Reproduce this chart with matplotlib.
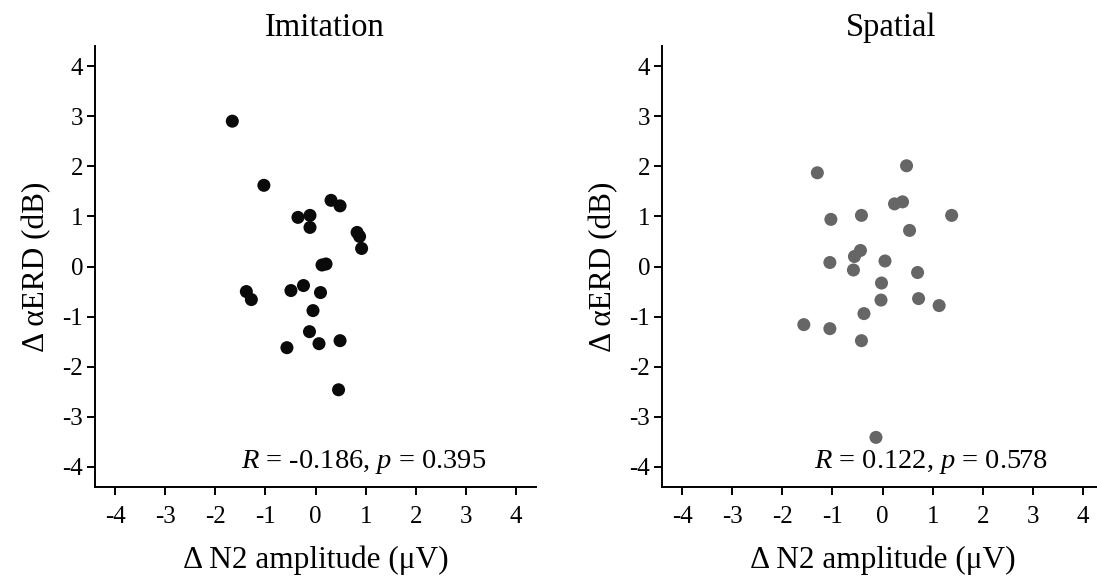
import matplotlib
matplotlib.use("Agg")
import matplotlib.pyplot as plt

plt.rcParams['font.family'] = ['Liberation Serif', 'DejaVu Serif']
plt.rcParams['mathtext.fontset'] = 'custom'
plt.rcParams['mathtext.rm'] = 'Liberation Serif'
plt.rcParams['mathtext.it'] = 'Liberation Serif:italic'
plt.rcParams['axes.unicode_minus'] = False

titles = ["Imitation", "Spatial"]
ticks = [-4, -3, -2, -1, 0, 1, 2, 3, 4]

imit_x = [-1.66, -1.03, -0.35, -0.11, -0.11, 0.31, 0.49, 0.83, 0.88, 0.92, 0.13, 0.21,
          -1.38, -1.28, -0.49, -0.24, 0.10, -0.05, -0.12, 0.07, 0.49, -0.57, 0.46]
imit_y = [2.90, 1.62, 0.98, 1.02, 0.78, 1.32, 1.21, 0.68, 0.60, 0.36, 0.03, 0.05,
          -0.50, -0.66, -0.48, -0.38, -0.52, -0.88, -1.30, -1.54, -1.48, -1.62, -2.46]

spat_x = [-1.30, 0.48, 0.24, 0.40, 1.38, -1.03, -0.42, 0.54, -0.44, -0.56, -1.05, 0.05,
          -0.58, 0.70, -0.02, -0.03, 0.72, 1.13, -0.37, -1.57, -1.05, -0.42, -0.13]
spat_y = [1.87, 2.01, 1.25, 1.29, 1.02, 0.94, 1.02, 0.72, 0.32, 0.20, 0.08, 0.11,
          -0.07, -0.12, -0.33, -0.67, -0.64, -0.78, -0.94, -1.16, -1.24, -1.48, -3.41]

labels = [r"$R$ = -0.186, $p$ = 0.395", r"$R$ = 0.122, $p$ = 0.578"]
colors = ["#0a0a0a", "#666666"]
label_x = 0.96
label_y = -3.9

W, H = 1097, 579
fig = plt.figure(figsize=(W / 100, H / 100), dpi=100)

lefts = [95, 662]
for i, (xs, ys) in enumerate([(imit_x, imit_y), (spat_x, spat_y)]):
    ax = fig.add_axes([lefts[i] / W, (H - 487) / H, 441 / W, 441 / H])
    ax.scatter(xs, ys, s=88, color=colors[i], edgecolors='none', zorder=3)
    ax.set_xlim(-4.4, 4.4)
    ax.set_ylim(-4.4, 4.4)
    ax.set_xticks(ticks)
    ax.set_yticks(ticks)
    ax.set_xticklabels([str(t) for t in ticks])
    ax.set_yticklabels([str(t) for t in ticks])
    for s in ['top', 'right']:
        ax.spines[s].set_visible(False)
    for s in ['left', 'bottom']:
        ax.spines[s].set_linewidth(1.4)
    ax.tick_params(axis='both', length=5.5, width=1.4, labelsize=18, color='black')
    ax.tick_params(axis='x', pad=8)
    ax.tick_params(axis='y', pad=3)
    ax.set_xlabel("Δ N2 amplitude (μV)", fontsize=22.5, labelpad=13)
    ax.set_ylabel("Δ αERD (dB)", fontsize=22.5, labelpad=8)
    ax.set_title(titles[i], fontsize=23.5, pad=7, x=0.52)
    ax.text(label_x, label_y, labels[i], fontsize=20.5, ha='center', va='center')

fig.savefig("out.png", dpi=100)
